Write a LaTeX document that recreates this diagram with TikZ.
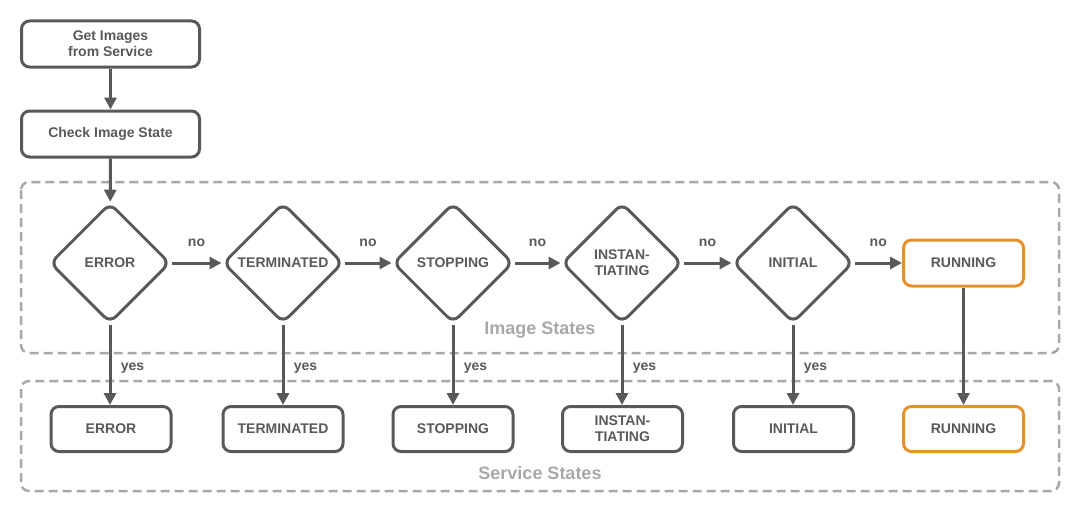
\documentclass[tikz,border=0pt]{standalone}
\usepackage{fontspec}
\setmainfont{Liberation Sans}
\usetikzlibrary{shapes.geometric,arrows.meta}
\definecolor{dgray}{HTML}{595959}
\definecolor{lgray}{HTML}{A8A8A8}
\definecolor{orng}{HTML}{E8912A}
\tikzset{
  txt/.style={font=\bfseries\fontsize{14}{16}\selectfont, text=dgray, align=center},
  topbox/.style={txt, rectangle, rounded corners=8pt, draw=dgray, line width=3pt, minimum width=178pt, minimum height=46pt, inner sep=2pt},
  statebox/.style={txt, rectangle, rounded corners=8pt, draw=dgray, line width=3pt, minimum width=120pt, minimum height=45pt, inner sep=2pt},
  hot/.style={draw=orng},
  dec/.style={txt, diamond, rounded corners=8pt, draw=dgray, line width=3pt, minimum width=120pt, minimum height=120pt, inner sep=0pt, aspect=1},
  flow/.style={draw=dgray, line width=3pt, -{Triangle[length=12pt,width=12pt]}},
  lab/.style={font=\bfseries\fontsize{14}{16}\selectfont, text=dgray},
  group/.style={draw=lgray, line width=2.5pt, dash pattern=on 9pt off 5pt, rounded corners=8pt},
  grouplab/.style={font=\bfseries\fontsize{18}{20}\selectfont, text=lgray}
}
\begin{document}
\begin{tikzpicture}[x=1pt,y=-1pt]
\useasboundingbox (0,0) rectangle (1091,511);
% containers
\draw[group] (21,182) rectangle (1059,353);
\draw[group] (21,381) rectangle (1059,491);
\node[grouplab] (imglab) at (540,330) {Image States};
\node[grouplab] (svclab) at (540,473) {Service States};
% top boxes
\node[topbox] (get) at (110.5,44) {Get Images\\from Service};
\node[topbox] (check) at (110.5,134) {Check Image State};
% diamonds
\node[dec] (d1) at (110,263) {ERROR};
\node[dec] (d2) at (283,263) {TERMINATED};
\node[dec] (d3) at (453,263) {STOPPING};
\node[dec] (d4) at (622,263) {INSTAN-\\TIATING};
\node[dec] (d5) at (793,263) {INITIAL};
\node[statebox, hot, minimum width=120pt, minimum height=46pt] (run) at (963.5,263) {RUNNING};
% bottom states
\node[statebox] (s1) at (111,429) {ERROR};
\node[statebox] (s2) at (283,429) {TERMINATED};
\node[statebox] (s3) at (453,429) {STOPPING};
\node[statebox] (s4) at (622.5,429) {INSTAN-\\TIATING};
\node[statebox] (s5) at (793.5,429) {INITIAL};
\node[statebox, hot] (s6) at (963.5,429) {RUNNING};
% arrows
\draw[flow] (get) -- (check);
\draw[flow] (check) -- (d1);
\draw[flow] (d1) -- node[lab, midway, yshift=20pt] {no} (d2);
\draw[flow] (d2) -- node[lab, midway, yshift=20pt] {no} (d3);
\draw[flow] (d3) -- node[lab, midway, yshift=20pt] {no} (d4);
\draw[flow] (d4) -- node[lab, midway, yshift=20pt] {no} (d5);
\draw[flow] (d5) -- node[lab, midway, yshift=20pt] {no} (run);
\draw[flow] (d1.south) -- node[lab, midway, right=6pt, yshift=-3pt] {yes} (d1.south |- s1.north);
\draw[flow] (d2.south) -- node[lab, midway, right=6pt, yshift=-3pt] {yes} (s2.north);
\draw[flow] (d3.south) -- node[lab, midway, right=6pt, yshift=-3pt] {yes} (s3.north);
\draw[flow] (d4.south) -- node[lab, midway, right=6pt, yshift=-3pt] {yes} (d4.south |- s4.north);
\draw[flow] (d5.south) -- node[lab, midway, right=6pt, yshift=-3pt] {yes} (d5.south |- s5.north);
\draw[flow] (run) -- (s6);
\end{tikzpicture}
\end{document}
